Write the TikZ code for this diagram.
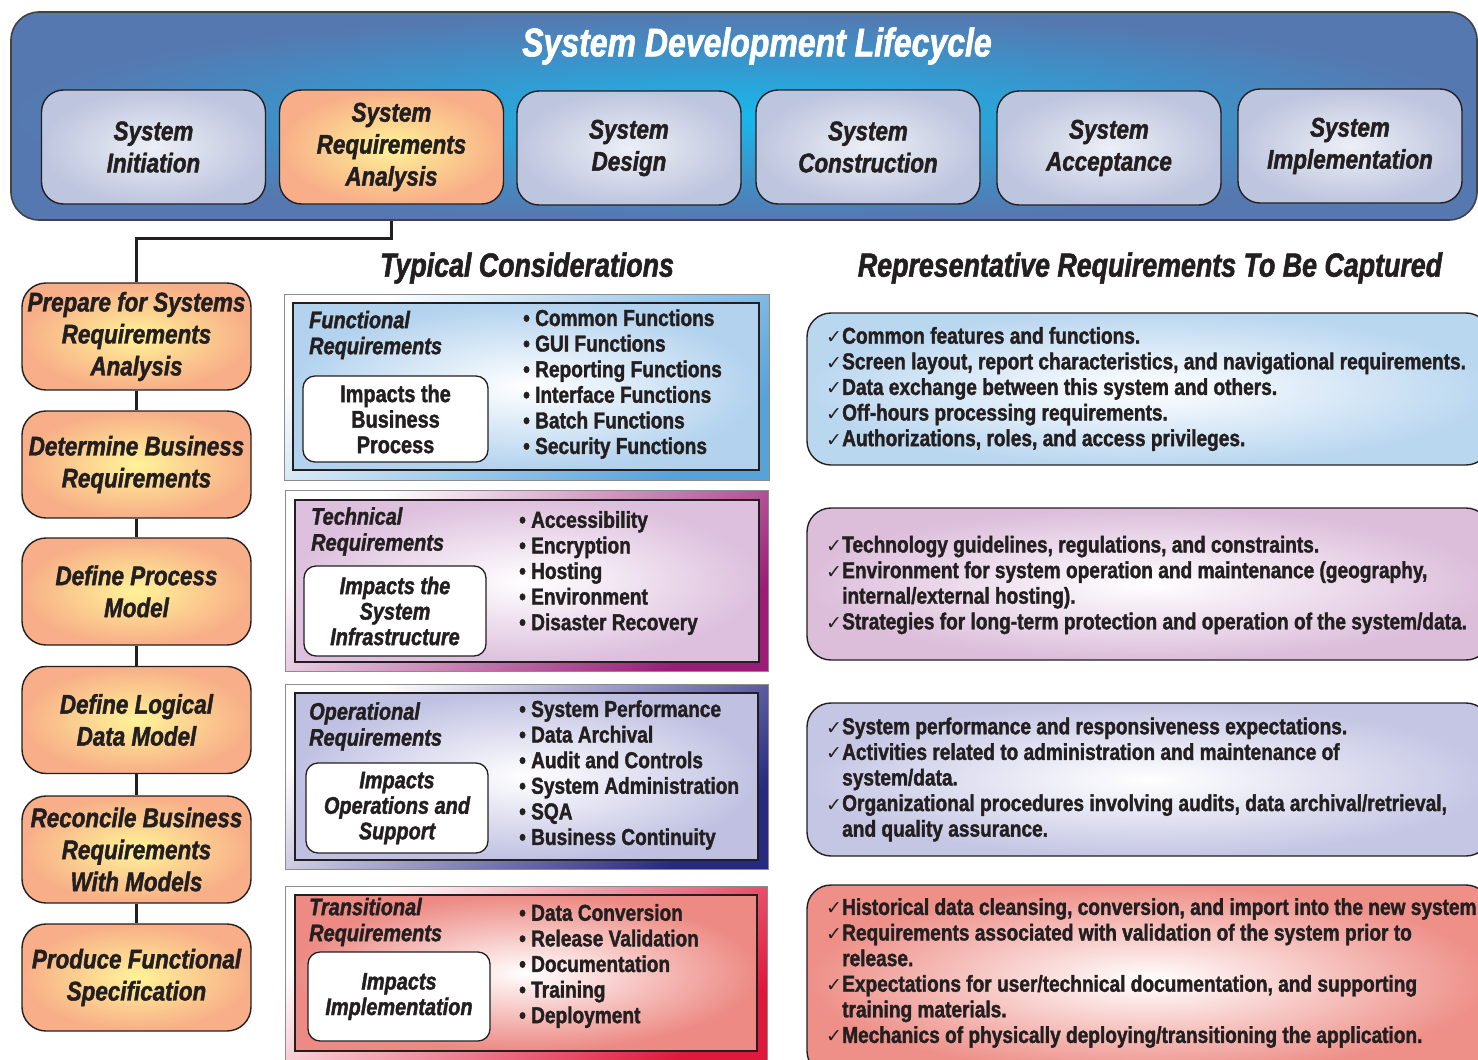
\documentclass[tikz,border=0pt]{standalone}
\usepackage{fontspec}
\setmainfont{Liberation Sans}[FakeStretch=0.83, BoldFeatures={FakeBold=1.6}, BoldItalicFeatures={FakeBold=1.6}]
\newfontfamily\titlefont{Liberation Sans}[FakeStretch=0.8, BoldFeatures={FakeBold=1.6}, BoldItalicFeatures={FakeBold=1.6}]
\newfontfamily\chkfont{DejaVu Sans}
\definecolor{ink}{HTML}{231F20}
\definecolor{panelout}{RGB}{86,120,176}
\definecolor{panelin}{RGB}{22,184,236}
\definecolor{lavout}{RGB}{190,197,222}
\definecolor{lavin}{RGB}{236,239,246}
\definecolor{orout}{RGB}{248,174,136}
\definecolor{orin}{RGB}{255,243,152}
\definecolor{fblue}{RGB}{178,210,238}
\definecolor{fbluedk}{RGB}{88,162,218}
\definecolor{tpink}{RGB}{221,192,221}
\definecolor{tpinkdk}{RGB}{156,28,120}
\definecolor{olav}{RGB}{192,193,226}
\definecolor{olavdk}{RGB}{40,42,128}
\definecolor{tred}{RGB}{237,138,132}
\definecolor{treddk}{RGB}{224,24,60}
\definecolor{rblue}{RGB}{186,215,240}
\definecolor{rpink}{RGB}{220,190,219}
\definecolor{rlav}{RGB}{197,198,228}
\definecolor{rred}{RGB}{238,143,136}
\newcommand{\ck}{\makebox[16pt][l]{\chkfont\mdseries\fontsize{19}{19}\selectfont ✓}}
\newcommand{\ind}{\hspace*{16pt}}
\begin{document}
\begin{tikzpicture}[x=1pt,y=-1pt,
  phase/.style={draw=ink, line width=1.4pt, rounded corners=22pt, minimum width=224pt, minimum height=114pt,
    inner color=lavin, outer color=lavout, align=center, text=ink,
    font=\fontsize{27}{32}\selectfont\bfseries\itshape},
  phaseor/.style={phase, inner color=orin, outer color=orout},
  stepbox/.style={draw=ink, line width=1.4pt, rounded corners=24pt, minimum width=229pt, minimum height=107pt,
    inner color=orin, outer color=orout, align=center, text=ink,
    font=\fontsize{27}{32}\selectfont\bfseries\itshape},
  mframe/.style={draw=black!45, line width=0.8pt, top color=white, bottom color=#1, shading angle=40, inner sep=0pt},
  minner/.style={draw=ink, line width=1.4pt, inner color=white, outer color=#1, inner sep=0pt},
  impact/.style={draw=ink, line width=1.3pt, rounded corners=12pt, fill=white, align=center, text=ink,
    minimum width=182pt, minimum height=88pt, font=\fontsize{24}{25.5}\selectfont\bfseries\itshape},
  lbl/.style={anchor=west, align=left, text=ink, inner sep=0pt, font=\fontsize{24}{26}\selectfont\bfseries\itshape},
  blist/.style={anchor=west, align=left, text=ink, inner sep=0pt, font=\fontsize{23}{25.6}\selectfont\bfseries},
  rbox/.style={draw=ink, line width=1.4pt, rounded corners=24pt, minimum width=683pt, inner color=white, outer color=#1},
  rtext/.style={anchor=west, align=left, text=ink, inner sep=0pt, font=\fontsize{23}{25.6}\selectfont\bfseries},
  hdr/.style={text=ink, font=\titlefont\fontsize{33.5}{36}\selectfont\bfseries\itshape},
  conn/.style={draw=ink, line width=3pt}
]
\useasboundingbox (0,0) rectangle (1478,1060);
\clip (0,0) rectangle (1478,1060);

% top panel
\node[draw=ink!85, line width=1.6pt, rounded corners=28pt, minimum width=1466pt, minimum height=208pt,
  inner color=panelin, outer color=panelout] (panel) at (744,116) {};
\node[text=white, font=\titlefont\fontsize{40}{44}\selectfont\bfseries\itshape] (title) at (757,46) {System Development Lifecycle};

\node[phase]   (p1) at (153.5,147) {System\\Initiation};
\node[phaseor] (p2) at (391.5,147) {System\\Requirements\\Analysis};
\node[phase]   (p3) at (629,148)   {System\\Design};
\node[phase]   (p4) at (868,147)   {System\\Construction};
\node[phase]   (p5) at (1109,148)  {System\\Acceptance};
\node[phase]   (p6) at (1350,146)  {System\\Implementation};

% left column
\node[stepbox] (l1) at (136.5,336.5) {Prepare for Systems\\Requirements\\Analysis};
\node[stepbox] (l2) at (136.5,464.5) {Determine Business\\Requirements};
\node[stepbox] (l3) at (136.5,591.5) {Define Process\\Model};
\node[stepbox] (l4) at (136.5,720)   {Define Logical\\Data Model};
\node[stepbox] (l5) at (136.5,849.5) {Reconcile Business\\Requirements\\With Models};
\node[stepbox] (l6) at (136.5,977.5) {Produce Functional\\Specification};

\draw[conn] (p2.south |- panel.south) -- ++(0,18) -| (l1.north);
\draw[conn] (l1.south) -- (l2.north);
\draw[conn] (l2.south) -- (l3.north);
\draw[conn] (l3.south) -- (l4.north);
\draw[conn] (l4.south) -- (l5.north);
\draw[conn] (l5.south) -- (l6.north);

% headers
\node[hdr] (h1) at (527,268) {Typical Considerations};
\node[hdr] (h2) at (1150,268) {Representative Requirements To Be Captured};

% middle: functional
\node[mframe=fbluedk, minimum width=485pt, minimum height=186pt] (fo) at (526.5,387) {};
\node[minner=fblue, minimum width=466pt, minimum height=167pt] (fi) at (526,386.5) {};
\node[lbl] (fl) at (309,335) {Functional\\Requirements};
\node[impact, font=\fontsize{24}{25.5}\selectfont\bfseries, minimum width=185pt, minimum height=86pt] (fx) at (395.5,419) {Impacts the\\Business\\Process};
\node[blist] (fb) at (523,384) {• Common Functions\\• GUI Functions\\• Reporting Functions\\• Interface Functions\\• Batch Functions\\• Security Functions};

% middle: technical
\node[mframe=tpinkdk, minimum width=483pt, minimum height=181pt] (to) at (526.5,580.5) {};
\node[minner=tpink, minimum width=464pt, minimum height=162pt] (ti) at (527,581) {};
\node[lbl] (tl) at (311,531.5) {Technical\\Requirements};
\node[impact, minimum height=90pt] (tx) at (395,611) {Impacts the\\System\\Infrastructure};
\node[blist] (tb) at (519,573) {• Accessibility\\• Encryption\\• Hosting\\• Environment\\• Disaster Recovery};

% middle: operational
\node[mframe=olavdk, minimum width=483pt, minimum height=185pt] (oo) at (526.5,776.5) {};
\node[minner=olav, minimum width=463pt, minimum height=167pt] (oi) at (526.5,776.5) {};
\node[lbl] (ol) at (309,726.5) {Operational\\Requirements};
\node[impact, minimum height=90pt] (ox) at (397,808) {Impacts\\Operations and\\Support};
\node[blist] (ob) at (519,775) {• System Performance\\• Data Archival\\• Audit and Controls\\• System Administration\\• SQA\\• Business Continuity};

% middle: transitional
\node[mframe=treddk, minimum width=482pt, minimum height=184pt] (ro) at (526,978) {};
\node[minner=tred, minimum width=462pt, minimum height=156pt] (ri) at (526,973) {};
\node[lbl] (rl) at (309,922) {Transitional\\Requirements};
\node[impact, minimum height=89pt] (rx) at (399,996.5) {Impacts\\Implementation};
\node[blist] (rb) at (519,966) {• Data Conversion\\• Release Validation\\• Documentation\\• Training\\• Deployment};

% right boxes
\node[rbox=rblue, minimum height=152pt] (q1) at (1148.5,389) {};
\node[rtext] (q1t) at (826,389) {\ck Common features and functions.\\
\ck Screen layout, report characteristics, and navigational requirements.\\
\ck Data exchange between this system and others.\\
\ck Off-hours processing requirements.\\
\ck Authorizations, roles, and access privileges.};

\node[rbox=rpink, minimum height=152pt] (q2) at (1148.5,584) {};
\node[rtext] (q2t) at (826,585) {\ck Technology guidelines, regulations, and constraints.\\
\ck Environment for system operation and maintenance (geography,\\
\ind internal/external hosting).\\
\ck Strategies for long-term protection and operation of the system/data.};

\node[rbox=rlav, minimum height=153pt] (q3) at (1148.5,779.5) {};
\node[rtext] (q3t) at (826,779.5) {\ck System performance and responsiveness expectations.\\
\ck Activities related to administration and maintenance of\\
\ind system/data.\\
\ck Organizational procedures involving audits, data archival/retrieval,\\
\ind and quality assurance.};

\node[rbox=rred, minimum height=190pt] (q4) at (1148.5,980) {};
\node[rtext] (q4t) at (826,973) {\ck Historical data cleansing, conversion, and import into the new system\\
\ck Requirements associated with validation of the system prior to\\
\ind release.\\
\ck Expectations for user/technical documentation, and supporting\\
\ind training materials.\\
\ck Mechanics of physically deploying/transitioning the application.};
\end{tikzpicture}
\end{document}
